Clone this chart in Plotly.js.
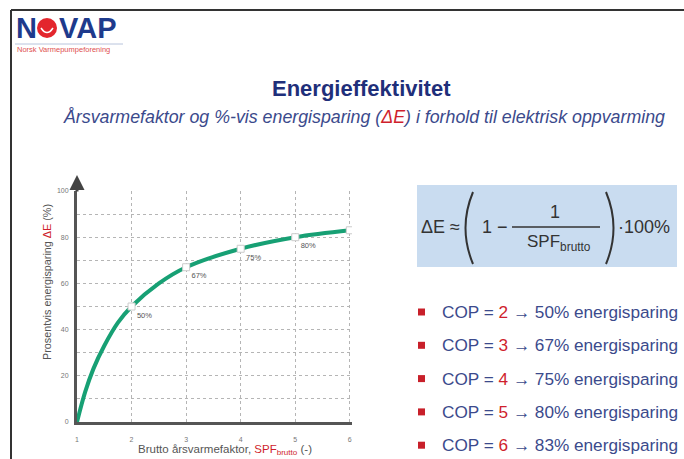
<!DOCTYPE html>
<html><head><meta charset="utf-8">
<script src="https://cdn.plot.ly/plotly-3.0.1.min.js"></script>
<style>html,body{margin:0;padding:0;background:#fff;}#c{width:684px;height:459px;}</style>
</head><body><div id="c"></div>
<script>
// ---- data ----
const curveX = [1, 1.15, 1.3, 1.5, 1.75, 2, 2.5, 3, 4, 5, 6];
const curveY = [0, 13, 23, 33, 43, 50, 60, 67, 75, 80, 83];
const copValues = [2, 3, 4, 5, 6];
const savingValues = [50, 67, 75, 80, 83];
const savingLabels = ['50%', '67%', '75%', '80%', '83%'];
const xTicks = [1, 2, 3, 4, 5, 6];
const yTicks = [0, 20, 40, 60, 80, 100];

// ---- layout helpers ----
const W = 684, H = 459, ML = 77, MR = 332, MT = 191, MB = 37;
const PW = W - ML - MR, PH = H - MT - MB;
const fx = p => (p - ML) / PW;
const fy = p => (H - MB - p) / PH;
const NAVY = '#3b4a8c', RED = '#cf1f2d', DARK = '#333333';
const FAM = 'Arial, Liberation Sans';

const curve = {x: curveX, y: curveY, mode: 'lines', line: {shape: 'spline', smoothing: 1, color: '#17a074', width: 4}, hoverinfo: 'skip'};
const pts = {x: copValues, y: savingValues, mode: 'markers+text', text: savingLabels,
  textposition: 'bottom right', textfont: {size: 7.5, color: '#555', family: FAM},
  marker: {symbol: 'square', size: 7, color: '#fff', line: {color: '#ccc', width: 1}}, hoverinfo: 'skip'};

const ann = [];
const A = (px, py, text, o) => ann.push(Object.assign({xref: 'paper', yref: 'paper', x: fx(px), y: fy(py), text: text, showarrow: false,
  xanchor: 'left', yanchor: 'middle', font: {family: FAM, size: 13, color: NAVY}}, o || {}));

// logo
A(14, 28, '<b>N</b>', {font: {family: FAM, size: 29, color: '#1e3a8c'}});
A(57, 28, '<b>VAP</b>', {font: {family: FAM, size: 29, color: '#1e3a8c'}});
A(15, 50, 'Norsk Varmepumpeforening', {font: {family: FAM, size: 7.5, color: '#e05050'}});
// titles
A(361, 88, '<b>Energieffektivitet</b>', {xanchor: 'center', font: {family: FAM, size: 22, color: '#1f2f7a'}});
A(364, 117, '<i>Årsvarmefaktor og %-vis energisparing (<span style="color:' + RED + '">ΔE</span>) i forhold til elektrisk oppvarming</i>',
  {xanchor: 'center', font: {family: FAM, size: 17.8, color: NAVY}});
// formula
const FF = {family: FAM, size: 18, color: DARK};
A(419, 227, 'ΔE ≈', {font: FF});
A(480, 227, '1 −', {font: FF});
A(555, 212, '1', {xanchor: 'center', font: FF});
A(559, 243, 'SPF<sub>brutto</sub>', {xanchor: 'center', font: Object.assign({}, FF, {size: 17})});
A(616, 227, '·100%', {font: FF});
// bullets
copValues.forEach((c, i) => {
  A(440, 312 + i * 33.3, 'COP = <span style="color:' + RED + '">' + c + '</span> → ' + savingLabels[i] + ' energisparing',
    {font: {family: FAM, size: 17.2, color: NAVY}});
});
// axis titles
A(47, 282, 'Prosentvis energisparing <span style="color:' + RED + '">ΔE</span> (%)',
  {xanchor: 'center', textangle: -90, font: {family: FAM, size: 10.8, color: '#555'}});
A(225, 450, 'Brutto årsvarmefaktor, <span style="color:' + RED + '">SPF<sub>brutto</sub></span> (-)',
  {xanchor: 'center', font: {family: FAM, size: 11.5, color: '#555'}});
// y axis arrow
ann.push({xref: 'x', yref: 'paper', x: 1, y: fy(175), ax: 0, ay: 18, text: '', showarrow: true,
  arrowhead: 2, arrowsize: 1, arrowwidth: 3, arrowcolor: '#444'});

const shapes = [
  {type: 'line', xref: 'paper', yref: 'paper', x0: fx(11), x1: fx(684), y0: fy(10), y1: fy(10), line: {color: '#333', width: 2}},
  {type: 'line', xref: 'paper', yref: 'paper', x0: fx(11), x1: fx(11), y0: fy(10), y1: fy(459), line: {color: '#333', width: 2}},
  {type: 'circle', xref: 'paper', yref: 'paper', x0: fx(37), x1: fx(57), y0: fy(18), y1: fy(38), fillcolor: '#e3262d', line: {width: 0}},
  {type: 'path', xref: 'paper', yref: 'paper', path: 'M ' + fx(41) + ',' + fy(28) + ' Q ' + fx(47) + ',' + fy(37) + ' ' + fx(53) + ',' + fy(28),
    line: {color: '#fff', width: 1.5}},
  {type: 'line', xref: 'paper', yref: 'paper', x0: fx(15), x1: fx(123), y0: fy(44), y1: fy(44), line: {color: '#b8c4dc', width: 1}},
  {type: 'rect', xref: 'paper', yref: 'paper', x0: fx(417), x1: fx(677), y0: fy(185), y1: fy(267), fillcolor: '#c9dcf0', line: {width: 0}, layer: 'below'},
  {type: 'path', xref: 'paper', yref: 'paper', path: 'M ' + fx(473) + ',' + fy(192) + ' Q ' + fx(458) + ',' + fy(228) + ' ' + fx(473) + ',' + fy(264),
    line: {color: DARK, width: 2}},
  {type: 'path', xref: 'paper', yref: 'paper', path: 'M ' + fx(606) + ',' + fy(192) + ' Q ' + fx(621) + ',' + fy(228) + ' ' + fx(606) + ',' + fy(264),
    line: {color: DARK, width: 2}},
  {type: 'line', xref: 'paper', yref: 'paper', x0: fx(512), x1: fx(600), y0: fy(227), y1: fy(227), line: {color: DARK, width: 1.5}}
];
copValues.forEach((c, i) => {
  const y = 312 + i * 33.3;
  shapes.push({type: 'rect', xref: 'paper', yref: 'paper', x0: fx(418), x1: fx(425), y0: fy(y - 3.5), y1: fy(y + 3.5), fillcolor: '#c8202a', line: {width: 0}});
});

const grid = {gridcolor: '#b5b5b5', griddash: 'dot', gridwidth: 1};
const layout = {
  width: W, height: H, margin: {l: ML, r: MR, t: MT, b: MB}, paper_bgcolor: '#fff', plot_bgcolor: '#fff',
  showlegend: false, hovermode: false,
  xaxis: Object.assign({range: [1, 6.04], tickvals: xTicks, showline: true, linecolor: '#555', linewidth: 3, zeroline: false,
    showgrid: true, ticks: '', ticklabelstandoff: 9, tickfont: {size: 7, color: '#777', family: FAM}}, grid),
  yaxis: Object.assign({range: [0, 100], tickvals: yTicks, showline: true, linecolor: '#555', linewidth: 3, zeroline: false,
    showgrid: true, ticks: '', ticklabelstandoff: 4, tickfont: {size: 7, color: '#777', family: FAM},
    minor: {tick0: 0, dtick: 10, showgrid: true, gridcolor: '#b5b5b5', griddash: 'dot', gridwidth: 1}}, grid),
  annotations: ann, shapes: shapes
};
Plotly.newPlot('c', [curve, pts], layout, {staticPlot: true, displayModeBar: false});
</script></body></html>
